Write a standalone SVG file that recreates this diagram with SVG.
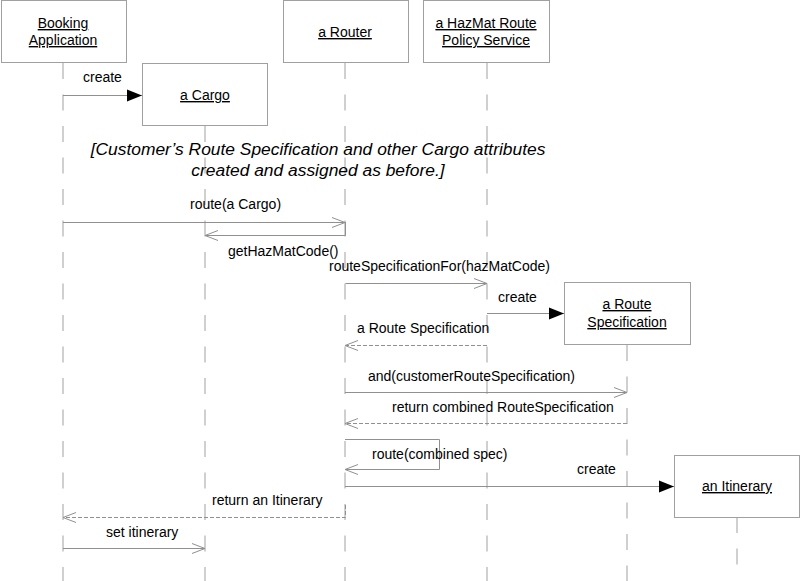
<svg xmlns="http://www.w3.org/2000/svg" width="800" height="581" viewBox="0 0 800 581">
<style>
.box{fill:#fff;stroke:#a0a0a0;stroke-width:1}
.life{stroke:#a0a0a0;stroke-width:1;stroke-dasharray:16 15.5;fill:none}
.msg{stroke:#909090;stroke-width:1;fill:none}
.ret{stroke:#909090;stroke-width:1;fill:none;stroke-dasharray:4 2}
.nm{font-family:"Liberation Sans",Arial,sans-serif;font-size:14px;fill:#000;text-anchor:middle;text-decoration:underline}
.lb{font-family:"Liberation Sans",Arial,sans-serif;font-size:14px;fill:#000}
.note{font-family:"Liberation Sans",Arial,sans-serif;font-size:17.4px;font-style:italic;fill:#000;text-anchor:middle}
</style>
<defs>
<marker id="open" markerWidth="14" markerHeight="12" refX="13" refY="6" orient="auto" markerUnits="userSpaceOnUse">
<path d="M0,1 L13,6 L0,11" fill="none" stroke="#909090" stroke-width="1"/>
</marker>
<marker id="filled" markerWidth="16" markerHeight="14" refX="15" refY="7" orient="auto" markerUnits="userSpaceOnUse">
<path d="M0,1 L15,7 L0,13 Z" fill="#000"/>
</marker>
</defs>
<rect width="800" height="581" fill="#fff"/>
<g id="lifelines">
<line class="life" x1="63" y1="63" x2="63" y2="581"/>
<line class="life" x1="205" y1="126" x2="205" y2="581"/>
<line class="life" x1="345" y1="63" x2="345" y2="581"/>
<line class="life" x1="487" y1="63" x2="487" y2="581"/>
<line class="life" x1="627" y1="345" x2="627" y2="581"/>
<line class="life" x1="737" y1="517" x2="737" y2="565"/>
</g>
<g id="booking">
<rect class="box" x="1.5" y="0.5" width="125" height="62"/>
<text class="nm" x="63" y="28">Booking</text>
<text class="nm" x="63" y="45">Application</text>
</g>
<g id="cargo">
<rect class="box" x="142.5" y="63.5" width="125" height="62"/>
<text class="nm" x="205" y="100">a Cargo</text>
</g>
<g id="router">
<rect class="box" x="283.5" y="0.5" width="125" height="62"/>
<text class="nm" x="345" y="37">a Router</text>
</g>
<g id="hazmat">
<rect class="box" x="423.5" y="0.5" width="126" height="62"/>
<text class="nm" x="486" y="28">a HazMat Route</text>
<text class="nm" x="486" y="45">Policy Service</text>
</g>
<g id="routespec">
<rect class="box" x="564.5" y="282.5" width="126" height="62"/>
<text class="nm" x="627" y="309">a Route</text>
<text class="nm" x="627" y="327">Specification</text>
</g>
<g id="itinerary">
<rect class="box" x="674.5" y="455.5" width="125" height="62"/>
<text class="nm" x="737" y="491">an Itinerary</text>
</g>
<g id="note">
<text class="note" x="318" y="155">[Customer’s Route Specification and other Cargo attributes</text>
<text class="note" x="318" y="176">created and assigned as before.]</text>
</g>
<g id="connectors">
<path class="msg" d="M63,95.5 H142" marker-end="url(#filled)"/>
<text class="lb" x="83" y="82">create</text>
<path class="msg" d="M63,222.5 H345" marker-end="url(#open)"/>
<text class="lb" x="190" y="209">route(a Cargo)</text>
<path class="msg" d="M345.5,222 V235.5 H205" marker-end="url(#open)"/>
<text class="lb" x="228" y="256">getHazMatCode()</text>
<path class="msg" d="M345.5,283.5 H487" marker-end="url(#open)"/>
<text class="lb" x="329" y="271">routeSpecificationFor(hazMatCode)</text>
<path class="msg" d="M487,313.5 H564" marker-end="url(#filled)"/>
<text class="lb" x="498" y="302">create</text>
<path class="ret" d="M487,345.5 H345" marker-end="url(#open)"/>
<text class="lb" x="357" y="333">a Route Specification</text>
<path class="msg" d="M345,392.5 H627" marker-end="url(#open)"/>
<text class="lb" x="368" y="381">and(customerRouteSpecification)</text>
<path class="ret" d="M627,423.5 H345" marker-end="url(#open)"/>
<text class="lb" x="392" y="412">return combined RouteSpecification</text>
<path class="msg" d="M345,439.5 H439.5 V469.5 H345" marker-end="url(#open)"/>
<text class="lb" x="372" y="459">route(combined spec)</text>
<path class="msg" d="M345,486.5 H674" marker-end="url(#filled)"/>
<text class="lb" x="577" y="474">create</text>
<path class="ret" d="M345.5,505 V517.5 H63" marker-end="url(#open)"/>
<text class="lb" x="212" y="505">return an Itinerary</text>
<path class="msg" d="M63,548.5 H205" marker-end="url(#open)"/>
<text class="lb" x="106" y="537">set itinerary</text>
</g>
</svg>
